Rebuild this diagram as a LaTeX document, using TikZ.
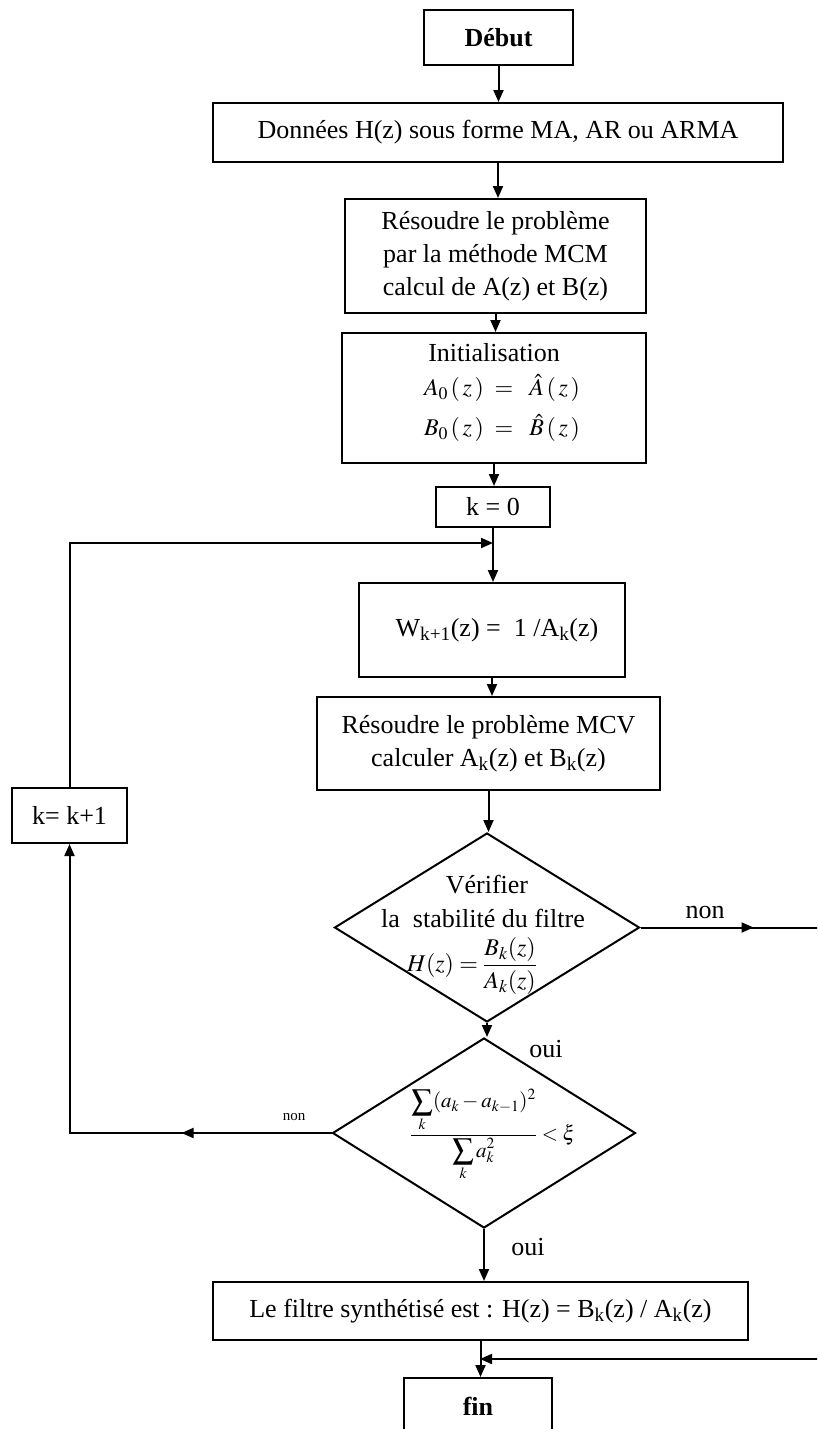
\documentclass[tikz,border=0pt]{standalone}
\usepackage{mathptmx}
\usepackage[no-math]{fontspec}
\setmainfont{Liberation Serif}
\usetikzlibrary{shapes.geometric,arrows.meta,decorations.markings}
\newcommand\myfs{\fontsize{26}{33}\selectfont}
\newcommand\mysm{\fontsize{15}{18}\selectfont}
\tikzset{
  every node/.style={font=\myfs},
  box/.style={draw, line width=2pt, inner sep=0pt, align=center},
  dia/.style={draw, diamond, line width=2pt, inner sep=0pt},
  tip/.style={-{Triangle[length=12pt,width=10pt]}},
  flow/.style={line width=2pt, tip},
  midarr/.style={postaction={decorate}, decoration={markings, mark=at position #1 with {\arrow{Triangle[length=12pt,width=10pt]}}}},
  lbl/.style={inner sep=0pt}
}
\begin{document}
\begin{tikzpicture}[x=1pt,y=-1pt]
\useasboundingbox (0,0) rectangle (817,1429);
\clip (0,0) rectangle (817,1429);
\fill[white] (0,0) rectangle (817,1429);

% boxes
\node[box, minimum width=149pt, minimum height=55pt, font=\bfseries\myfs] (start) at (498.5,37.5) {Début};
\node[box, minimum width=570pt, minimum height=59pt] (data) at (498,132.5) {Données H(z) sous forme MA, AR ou ARMA};
\node[box, minimum width=301pt, minimum height=114pt] (mcm) at (495.5,256) {Résoudre le problème\\par la méthode MCM\\calcul de A(z) et B(z)};
\node[box, minimum width=304pt, minimum height=130pt] (init) at (494,398) {};
\node[lbl] (init1) at (494,353) {Initialisation};
\node[lbl, font=\fontsize{24}{28}\selectfont] (init2) at (502,388) {$A_{0}\,(\,z\,)\;=\;\;\hat{A}\,(\,z\,)$};
\node[lbl, font=\fontsize{24}{28}\selectfont] (init3) at (502,428) {$B_{0}\,(\,z\,)\;=\;\;\hat{B}\,(\,z\,)$};
\node[box, minimum width=114pt, minimum height=40pt] (k0) at (493,507) {k = 0};
\node[box, minimum width=266pt, minimum height=94pt] (W) at (492,630) {\hspace{10pt}W\textsubscript{k+1}(z) =\ \ 1 /A\textsubscript{k}(z)};
\node[box, minimum width=343pt, minimum height=93pt] (mcv) at (488.5,743.5) {Résoudre le problème MCV\\calculer A\textsubscript{k}(z) et B\textsubscript{k}(z)};
\node[box, minimum width=115pt, minimum height=55pt] (kk) at (69.5,815.5) {k= k+1};

% decisions
\node[dia, minimum width=305pt, minimum height=189pt] (d1) at (487,927.5) {};
\node[lbl] (d1a) at (487,885) {Vérifier};
\node[lbl] (d1b) at (483,918) {la\ \ stabilité du filtre};
\node[lbl, font=\fontsize{24}{28}\selectfont] (d1c) at (472,966) {$H(z)=\displaystyle\frac{B_k(z)}{A_k(z)}$};

\node[dia, minimum width=303pt, minimum height=190pt] (d2) at (484,1133) {};
\node[lbl, font=\fontsize{21}{25}\selectfont] (d2t) at (493,1135) {$\displaystyle\frac{\displaystyle\sum_k (a_k - a_{k-1})^2}{\displaystyle\sum_k a_k^2} < \xi$};

\node[box, minimum width=535pt, minimum height=58pt] (final) at (480.5,1311) {Le filtre synthétisé est : H(z) = B\textsubscript{k}(z) / A\textsubscript{k}(z)};
\node[box, minimum width=148pt, minimum height=70pt, font=\bfseries\myfs, text depth=14pt] (fin) at (478,1413) {fin};

% junctions
\coordinate (J1) at (493,543);
\coordinate (J2) at (480,1359);
\coordinate (R1) at (845,927.5);

% connectors
\draw[flow] (start.south) -- (start.south |- data.north);
\draw[flow] (data.south) -- (data.south |- mcm.north);
\draw[flow] (mcm.south) -- (mcm.south |- init.north);
\draw[flow] (init.south) -- (init.south |- k0.north);
\draw[flow] (k0.south) -- (k0.south |- W.north);
\draw[flow] (W.south) -- (W.south |- mcv.north);
\draw[flow] (mcv.south) -- (mcv.south |- d1.north);
\draw[flow] (d1.south) -- (d1.south |- d2.north);
\draw[flow] (d2.south) -- (d2.south |- final.north);
\draw[flow] (final.south) -- (final.south |- fin.north);
\draw[flow] (kk.north) |- (J1);
\draw[flow, midarr=150pt] (d2.west) -| (kk.south);
\draw[flow, midarr=113pt] (d1.east) -- (R1) |- (J2);

% labels
\node[lbl] (non1) at (705,912) {non};
\node[lbl] (oui1) at (546,1049) {oui};
\node[lbl, font=\mysm] (non2) at (294,1117) {non};
\node[lbl] (oui2) at (528,1247) {oui};
\end{tikzpicture}
\end{document}
